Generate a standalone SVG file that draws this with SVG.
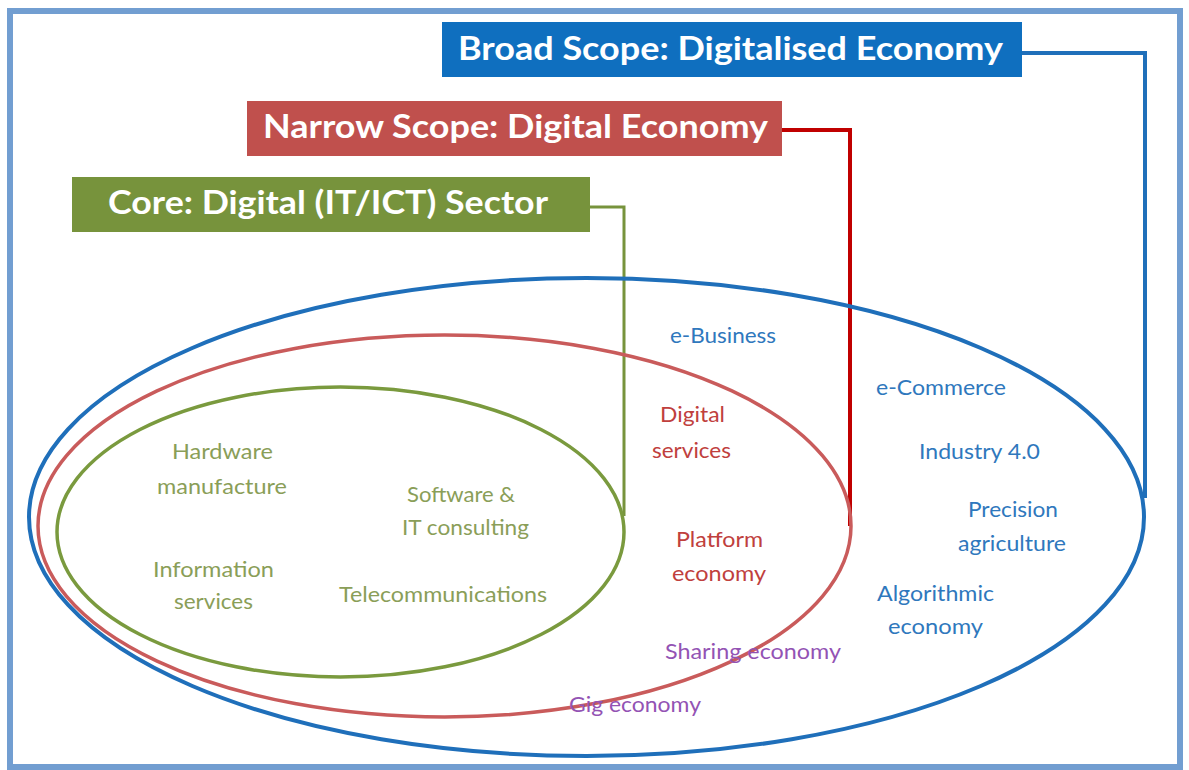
<svg xmlns="http://www.w3.org/2000/svg" width="1189" height="770" viewBox="0 0 1189 770">
<style>
.title{font-family:Lato,"Open Sans","Liberation Sans",sans-serif;font-weight:bold;font-size:32px;fill:#ffffff}
.lbl{font-family:Lato,"Open Sans","Liberation Sans",sans-serif;font-size:21px}
.g{fill:#8a9e58}
.r{fill:#c0403d}
.b{fill:#2f78bd}
.p{fill:#9353b4}
.ell{fill:none}
.conn{fill:none;stroke-linejoin:miter}
</style>
<rect x="0" y="0" width="1189" height="770" fill="#ffffff"/>
<rect id="frame" x="10" y="11" width="1170" height="756" fill="none" stroke="#729ed1" stroke-width="6"/>

<g id="connectors">
<polyline class="conn" points="1020,53 1145,53 1145,498" stroke="#1f6fba" stroke-width="4"/>
<polyline class="conn" points="782,130 850,130 850,526" stroke="#c00000" stroke-width="4"/>
<polyline class="conn" points="590,207 624,207 624,516" stroke="#77933c" stroke-width="3"/>
</g>

<g id="broad">
<ellipse class="ell" cx="586.5" cy="517" rx="557.5" ry="239" stroke="#1f6fba" stroke-width="4"/>
<rect x="442" y="22" width="580" height="55" fill="#0f6fbf"/>
<text class="title" x="458" y="60" textLength="545" lengthAdjust="spacingAndGlyphs">Broad Scope: Digitalised Economy</text>
</g>

<g id="narrow">
<ellipse class="ell" cx="444.5" cy="526" rx="406.5" ry="191" stroke="#c95b5b" stroke-width="3.5"/>
<rect x="247" y="101" width="535" height="55" fill="#c0504d"/>
<text class="title" x="263" y="138" textLength="505" lengthAdjust="spacingAndGlyphs">Narrow Scope: Digital Economy</text>
</g>

<g id="core">
<ellipse class="ell" cx="340.5" cy="532" rx="283.5" ry="145" stroke="#7a9a3e" stroke-width="3.5"/>
<rect x="72" y="177" width="518" height="55" fill="#77933c"/>
<text class="title" x="108" y="214" textLength="440" lengthAdjust="spacingAndGlyphs">Core: Digital (IT/ICT) Sector</text>
</g>

<g id="core-items">
<text class="lbl g" x="172" y="459" textLength="101" lengthAdjust="spacingAndGlyphs">Hardware</text>
<text class="lbl g" x="157" y="494" textLength="130" lengthAdjust="spacingAndGlyphs">manufacture</text>
<text class="lbl g" x="407" y="502" textLength="108" lengthAdjust="spacingAndGlyphs">Software &amp;</text>
<text class="lbl g" x="402" y="535" textLength="127" lengthAdjust="spacingAndGlyphs">IT consulting</text>
<text class="lbl g" x="153" y="577" textLength="121" lengthAdjust="spacingAndGlyphs">Information</text>
<text class="lbl g" x="174" y="609" textLength="79" lengthAdjust="spacingAndGlyphs">services</text>
<text class="lbl g" x="339" y="602" textLength="208" lengthAdjust="spacingAndGlyphs">Telecommunications</text>
</g>

<g id="narrow-items">
<text class="lbl r" x="660" y="422" textLength="65" lengthAdjust="spacingAndGlyphs">Digital</text>
<text class="lbl r" x="652" y="458" textLength="79" lengthAdjust="spacingAndGlyphs">services</text>
<text class="lbl r" x="676" y="547" textLength="87" lengthAdjust="spacingAndGlyphs">Platform</text>
<text class="lbl r" x="672" y="581" textLength="94" lengthAdjust="spacingAndGlyphs">economy</text>
</g>

<g id="broad-items">
<text class="lbl b" x="670" y="343" textLength="106" lengthAdjust="spacingAndGlyphs">e-Business</text>
<text class="lbl b" x="876" y="395" textLength="130" lengthAdjust="spacingAndGlyphs">e-Commerce</text>
<text class="lbl b" x="919" y="459" textLength="121" lengthAdjust="spacingAndGlyphs">Industry 4.0</text>
<text class="lbl b" x="968" y="517" textLength="90" lengthAdjust="spacingAndGlyphs">Precision</text>
<text class="lbl b" x="958" y="551" textLength="108" lengthAdjust="spacingAndGlyphs">agriculture</text>
<text class="lbl b" x="877" y="601" textLength="117" lengthAdjust="spacingAndGlyphs">Algorithmic</text>
<text class="lbl b" x="888" y="634" textLength="95" lengthAdjust="spacingAndGlyphs">economy</text>
</g>

<g id="other-items">
<text class="lbl p" x="665" y="659" textLength="176" lengthAdjust="spacingAndGlyphs">Sharing economy</text>
<text class="lbl p" x="569" y="712" textLength="132" lengthAdjust="spacingAndGlyphs">Gig economy</text>
</g>
</svg>
